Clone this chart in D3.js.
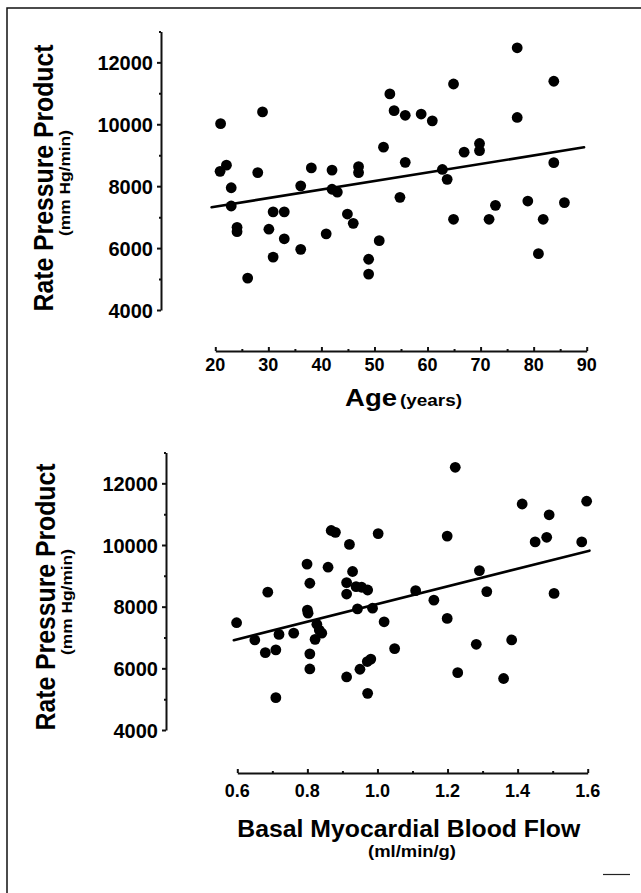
<!DOCTYPE html>
<html>
<head>
<meta charset="utf-8">
<script src="https://cdn.jsdelivr.net/npm/d3@7"></script>
<style>
body { margin: 0; background: #fff; }
text { font-family: "Liberation Sans", Arial, Helvetica, sans-serif; fill: #000; }
</style>
</head>
<body>
<script>
// values
var ageVals = [21.0, 28.9, 22.1, 20.9, 23.0, 23.0, 24.1, 24.1, 28.0, 26.1, 30.9, 33.0, 30.1, 33.0, 30.9, 36.1, 36.1, 38.1,
	40.9, 42.0, 42.0, 43.0, 47.0, 47.0, 44.9, 46.0, 48.9, 48.9, 50.9, 51.7, 52.9, 53.7, 55.8, 58.8, 55.8, 54.8, 60.9,
	64.9, 76.9, 83.8, 76.9, 66.9, 69.8, 69.8, 62.8, 63.7, 83.8, 64.9, 71.6, 72.8, 78.9, 81.8, 85.8, 80.9];
var ageRpp = [10020, 10400, 8680, 8480, 7950, 7360, 6670, 6530, 8440, 5030, 7170, 7170, 6610, 6300, 5710, 5960, 8010, 8590,
	6460, 8520, 7900, 7810, 8630, 8440, 7100, 6800, 5640, 5160, 6240, 9260, 10980, 10440, 10290, 10330, 8770, 7640, 10110,
	11300, 12470, 11390, 10220, 9100, 9380, 9150, 8540, 8220, 8760, 6930, 6930, 7380, 7520, 6930, 7470, 5820];

var flowVals = [0.598, 0.687, 0.650, 0.680, 0.710, 0.719, 0.761, 0.710, 0.799, 0.807, 0.800, 0.802, 0.827, 0.834, 0.841,
	0.822, 0.807, 0.807, 0.859, 0.868, 0.880, 0.920, 1.002, 0.929, 0.912, 0.912, 0.939, 0.955, 0.972, 0.943, 0.986, 1.019,
	1.049, 0.981, 0.971, 0.950, 0.912, 0.972, 1.109, 1.222, 1.199, 1.161, 1.199, 1.291, 1.312, 1.282, 1.383, 1.229, 1.360,
	1.413, 1.490, 1.597, 1.450, 1.483, 1.583, 1.504];
var flowRpp = [7480, 8470, 6920, 6510, 6600, 7100, 7140, 5050, 9380, 8760, 7890, 7790, 7430, 7240, 7140,
	6940, 6470, 5980, 9280, 10470, 10410, 10020, 10370, 9140, 8780, 8410, 8650, 8630, 8540, 7930, 7950, 7510,
	6640, 6300, 6220, 5970, 5720, 5190, 8520, 12520, 10290, 8210, 7620, 9170, 8490, 6780, 6920, 5860, 5670,
	11330, 10980, 11420, 10100, 10250, 10100, 8430];

// fitted lines, end points as drawn
var ageFitX = [19.3, 89.5];
var ageFitY = [7320, 9255];
var flowFitX = [0.59, 1.605];
var flowFitY = [6910, 9816];

var rppTicks = [4000, 6000, 8000, 10000, 12000];
var rppMinor = [5000, 7000, 9000, 11000, 13000];
var ageTicks = [20, 30, 40, 50, 60, 70, 80, 90];
var ageMinor = [25, 35, 45, 55, 65, 75, 85];
var flowTicks = [0.6, 0.8, 1.0, 1.2, 1.4, 1.6];
var flowMinor = [0.7, 0.9, 1.1, 1.3, 1.5];

var svg = d3.select("body")
	.append("svg")
	.attr("width", 641)
	.attr("height", 893);

// page frame (top + left only, as on the scan)
svg.append("path")
	.attr("d", "M7,893 L7,8 L641,8")
	.attr("fill", "none")
	.attr("stroke", "#111")
	.attr("stroke-width", 1.5);
svg.append("line")
	.attr("x1", 603).attr("x2", 630)
	.attr("y1", 874.5).attr("y2", 874.5)
	.attr("stroke", "#222")
	.attr("stroke-width", 1.2);

function drawPanel(p) {
	var g = svg.append("g");

	// y axis
	var yAxis = g.append("g")
		.attr("transform", "translate(" + p.ax + ",0)")
		.call(d3.axisLeft(p.y).tickValues(rppTicks).tickSize(4).tickPadding(4).tickSizeOuter(0).tickFormat(d3.format("d")));
	g.append("g")
		.attr("transform", "translate(" + p.ax + ",0)")
		.call(d3.axisLeft(p.y).tickValues(rppMinor).tickSize(2).tickFormat("").tickSizeOuter(0))
		.select(".domain").remove();
	yAxis.selectAll("text")
		.style("font-size", "20px")
		.style("font-weight", "bold")
		.attr("dy", "0.36em");

	// x axis, ticks point up
	g.append("g")
		.attr("transform", "translate(0," + p.ay + ")")
		.call(d3.axisBottom(p.x).tickValues(p.ticks).tickSize(-4).tickFormat("").tickSizeOuter(0));
	g.append("g")
		.attr("transform", "translate(0," + p.ay + ")")
		.call(d3.axisBottom(p.x).tickValues(p.minor).tickSize(-2).tickFormat("").tickSizeOuter(0))
		.select(".domain").remove();
	g.selectAll(".xlab")
		.data(p.ticks)
		.enter().append("text")
		.attr("class", "xlab")
		.attr("x", function(d) { return p.x(d); })
		.attr("y", p.labY)
		.attr("text-anchor", "middle")
		.style("font-size", "18px")
		.style("font-weight", "bold")
		.text(p.fmt);

	g.selectAll(".domain, .tick line")
		.attr("stroke", "#111")
		.attr("stroke-width", 2);

	// y title
	var yt = g.append("g")
		.attr("transform", "translate(" + p.ytx + "," + p.yty + ") rotate(-90)");
	yt.append("text")
		.attr("text-anchor", "middle")
		.attr("textLength", 267)
		.attr("lengthAdjust", "spacingAndGlyphs")
		.style("font-size", "28px")
		.style("font-weight", "bold")
		.text("Rate Pressure Product");
	yt.append("text")
		.attr("x", -5)
		.attr("y", 17)
		.attr("text-anchor", "middle")
		.attr("textLength", 106)
		.attr("lengthAdjust", "spacingAndGlyphs")
		.style("font-size", "15px")
		.style("font-weight", "bold")
		.text("(mm Hg/min)");

	// fit line
	var line = d3.line()
		.x(function(d) { return p.x(d[0]); })
		.y(function(d) { return p.y(d[1]); });
	g.append("path")
		.datum(d3.zip(p.fitX, p.fitY))
		.attr("d", line)
		.attr("fill", "none")
		.attr("stroke", "#000")
		.attr("stroke-width", 2.6)
		.attr("stroke-linecap", "round");

	// dots
	g.selectAll(".dot")
		.data(d3.zip(p.xs, p.ys))
		.enter().append("circle")
		.attr("class", "dot")
		.attr("cx", function(d) { return p.x(d[0]); })
		.attr("cy", function(d) { return p.y(d[1]); })
		.attr("r", 5.4)
		.attr("fill", "#000");
	return g;
}

var xAge = d3.scaleLinear().domain([20, 90]).range([215.3, 586.7]);
var yTop = d3.scaleLinear().domain([4000, 13000]).range([310, 31.4]);
var topPanel = drawPanel({
	x: xAge, y: yTop, ax: 161, ay: 351, labY: 371,
	ticks: ageTicks, minor: ageMinor, fmt: function(d) { return d; },
	ytx: 53, yty: 178,
	fitX: ageFitX, fitY: ageFitY, xs: ageVals, ys: ageRpp
});
var ageT = topPanel.append("text").attr("y", 406);
ageT.append("tspan")
	.attr("x", 345)
	.attr("textLength", 52)
	.attr("lengthAdjust", "spacingAndGlyphs")
	.style("font-size", "23px")
	.style("font-weight", "bold")
	.text("Age");
ageT.append("tspan")
	.attr("x", 400)
	.attr("textLength", 62)
	.attr("lengthAdjust", "spacingAndGlyphs")
	.style("font-size", "16px")
	.style("font-weight", "bold")
	.text("(years)");

var xFlow = d3.scaleLinear().domain([0.6, 1.6]).range([237.3, 587.7]);
var yBot = d3.scaleLinear().domain([4000, 13000]).range([730, 452.5]);
var botPanel = drawPanel({
	x: xFlow, y: yBot, ax: 166, ay: 773, labY: 797,
	ticks: flowTicks, minor: flowMinor, fmt: d3.format(".1f"),
	ytx: 55, yty: 597,
	fitX: flowFitX, fitY: flowFitY, xs: flowVals, ys: flowRpp
});
botPanel.append("text")
	.attr("x", 237.3)
	.attr("y", 837)
	.attr("textLength", 343)
	.attr("lengthAdjust", "spacingAndGlyphs")
	.style("font-size", "23px")
	.style("font-weight", "bold")
	.text("Basal Myocardial Blood Flow");
botPanel.append("text")
	.attr("x", 368)
	.attr("y", 857)
	.attr("textLength", 88)
	.attr("lengthAdjust", "spacingAndGlyphs")
	.style("font-size", "16px")
	.style("font-weight", "bold")
	.text("(ml/min/g)");
</script>
</body>
</html>
